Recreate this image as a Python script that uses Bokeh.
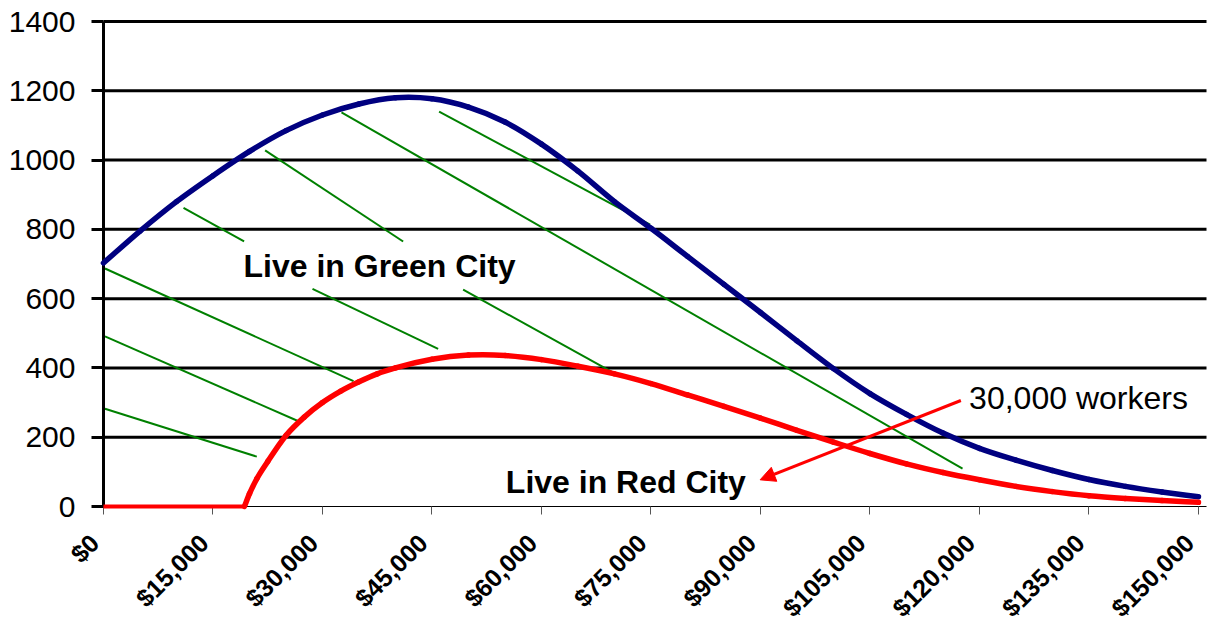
from math import pi

from bokeh.core.properties import value
from bokeh.embed import file_html
from bokeh.models import Arrow, FixedTicker, NormalHead, Range1d
from bokeh.plotting import figure
from bokeh.resources import INLINE

# Household income (USD) and number of workers living in each city
income_green = [0, 5000, 10000, 15000, 20000, 25000, 30000, 35000, 40000, 45000,
                50000, 55000, 60000, 65000, 70000, 75000, 80000, 85000, 90000, 95000,
                100000, 105000, 110000, 115000, 120000, 125000, 130000, 135000, 140000,
                145000, 150000]
green_city = [703, 795, 880, 955, 1025, 1085, 1130, 1162, 1180, 1177,
              1153, 1110, 1046, 968, 880, 803, 722, 641, 560, 478,
              398, 326, 266, 212, 168, 134, 104, 78, 58,
              42, 28]

income_red = [0, 5000, 10000, 15000, 19300, 20000, 21000, 22500, 25000, 27500,
              30000, 32500, 35000, 37500, 40000, 45000, 50000, 55000, 60000, 65000,
              70000, 75000, 80000, 85000, 90000, 95000, 100000, 105000, 110000,
              115000, 120000, 125000, 130000, 135000, 140000, 145000, 150000]
red_city = [0, 0, 0, 0, 0, 37, 80, 130, 205, 258,
            300, 333, 360, 383, 400, 425, 437, 436, 424, 405,
            383, 355, 322, 289, 255, 220, 186, 153, 123,
            98, 77, 58, 43, 31, 23, 17, 12]

# Diagonal hatching over the Green City region (income, workers)
hatch_x0 = [10960, 22140, 32600, 45975, 28630, 49265, 200, 200, 200]
hatch_y0 = [862, 1028, 1138, 1140, 628, 626, 687, 491, 282]
hatch_x1 = [19260, 41045, 117680, 74880, 45840, 69950, 34250, 26715, 21000]
hatch_y1 = [765, 765, 109, 814, 455, 385, 362, 246, 144]

x_ticks = [0, 15000, 30000, 45000, 60000, 75000, 90000, 105000, 120000, 135000, 150000]
x_tick_labels = ["$0", "$15,000", "$30,000", "$45,000", "$60,000", "$75,000",
                 "$90,000", "$105,000", "$120,000", "$135,000", "$150,000"]
y_ticks = [0, 200, 400, 600, 800, 1000, 1200, 1400]
y_tick_labels = ["0", "200", "400", "600", "800", "1000", "1200", "1400"]
grid_values = [200, 400, 600, 800, 1000, 1200, 1400]

green_label = ("Live in Green City", 19180, 695)
red_label = ("Live in Red City", 55115, 71)
count_label = ("30,000 workers", 118580, 314)
arrow_from = (117450, 306)
arrow_to = (89950, 77)

FONT = "Liberation Sans"

# page geometry in pixels: the data band 0..X_END x 0..Y_END sits inside a
# frame that fills the whole page, so the slanted labels are not clipped
W, H = 1211, 624
BAND_LEFT, BAND_RIGHT, BAND_TOP, BAND_BOTTOM = 103, 1206, 21, 506
X_END, Y_END = 151100, 1400
x_per_px = X_END / (BAND_RIGHT - BAND_LEFT)
y_per_px = Y_END / (BAND_BOTTOM - BAND_TOP)
x_range = Range1d(-BAND_LEFT * x_per_px, X_END + (W - BAND_RIGHT) * x_per_px)
y_range = Range1d(-(H - BAND_BOTTOM) * y_per_px, Y_END + BAND_TOP * y_per_px)


def smooth_pieces(xs, ys):
    """Cubic Bezier pieces through every point (Hermite, centred slopes)."""
    n = len(xs)
    h = [xs[i + 1] - xs[i] for i in range(n - 1)]
    d = [(ys[i + 1] - ys[i]) / h[i] for i in range(n - 1)]
    m = [d[0]]
    for i in range(1, n - 1):
        m.append((d[i - 1] * h[i] + d[i] * h[i - 1]) / (h[i - 1] + h[i]))
    m.append(d[-1])
    out = dict(x0=[], y0=[], x1=[], y1=[], cx0=[], cy0=[], cx1=[], cy1=[])
    for i in range(n - 1):
        t = h[i] / 3
        out["x0"].append(xs[i]); out["y0"].append(ys[i])
        out["x1"].append(xs[i + 1]); out["y1"].append(ys[i + 1])
        out["cx0"].append(xs[i] + t); out["cy0"].append(ys[i] + m[i] * t)
        out["cx1"].append(xs[i + 1] - t); out["cy1"].append(ys[i + 1] - m[i + 1] * t)
    return out


p = figure(width=W, height=H, output_backend="svg", toolbar_location=None,
           x_range=x_range, y_range=y_range,
           min_border=0, min_border_left=0, min_border_right=0,
           min_border_top=0, min_border_bottom=0)
p.outline_line_color = None
p.background_fill_color = "white"
p.border_fill_color = "white"
p.xgrid.visible = False
p.ygrid.visible = False

# horizontal rules across the data band
rules = p.segment(x0=[0] * len(grid_values), y0=grid_values,
                  x1=[X_END] * len(grid_values), y1=grid_values,
                  line_color="black", line_width=3)
rules.level = "underlay"

# y axis pinned at income 0
p.yaxis.fixed_location = 0
p.yaxis.bounds = (0, Y_END)
p.yaxis.ticker = FixedTicker(ticks=y_ticks)
p.yaxis.major_label_overrides = dict(zip(y_ticks, y_tick_labels))
p.yaxis.axis_line_color = "black"
p.yaxis.axis_line_width = 3
p.yaxis.major_tick_line_color = "black"
p.yaxis.major_tick_line_width = 3
p.yaxis.major_tick_out = 12
p.yaxis.major_tick_in = 0
p.yaxis.minor_tick_line_color = None
p.yaxis.major_label_text_font = FONT
p.yaxis.major_label_text_font_size = "30px"
p.yaxis.major_label_text_color = "black"
p.yaxis.major_label_standoff = 16

# x axis pinned at zero workers; its slanted labels are drawn as text below
p.xaxis.fixed_location = 0
p.xaxis.bounds = (0, X_END)
p.xaxis.ticker = FixedTicker(ticks=x_ticks)
p.xaxis.major_label_overrides = {t: "" for t in x_ticks}
p.xaxis.axis_line_color = "black"
p.xaxis.axis_line_width = 1
p.xaxis.major_tick_line_color = "#555555"
p.xaxis.major_tick_line_width = 1
p.xaxis.major_tick_out = 8
p.xaxis.major_tick_in = 0
p.xaxis.minor_tick_line_color = None

p.text(x=x_ticks, y=[0] * len(x_ticks), text=x_tick_labels, angle=pi / 4,
       text_align="right", text_baseline="middle", x_offset=-9, y_offset=32,
       text_font=value(FONT), text_font_size="25px", text_font_style="bold",
       text_color="black")

# hatching
p.segment(x0=hatch_x0, y0=hatch_y0, x1=hatch_x1, y1=hatch_y1,
          line_color="#008000", line_width=2)

# the two distributions, drawn as smooth curves through the points
blue = p.bezier(line_color="#000080", line_width=5.5, line_cap="round",
                **smooth_pieces(income_green, green_city))
blue.level = "overlay"

rise_start = max(i for i, v in enumerate(red_city) if v == 0)
red_flat = p.line(income_red[:rise_start + 1], red_city[:rise_start + 1],
                  line_color="#ff0000", line_width=4, line_cap="butt")
red_flat.level = "overlay"
red = p.bezier(line_color="#ff0000", line_width=5.5, line_cap="round",
               **smooth_pieces(income_red[rise_start:], red_city[rise_start:]))
red.level = "overlay"

# labels
for lab, style in ((green_label, "bold"), (red_label, "bold"), (count_label, "normal")):
    p.text(x=[lab[1]], y=[lab[2]], text=[lab[0]],
           text_font=value(FONT), text_font_size="32px", text_font_style=style,
           text_color="black", text_align="left", text_baseline="alphabetic")

p.add_layout(Arrow(end=NormalHead(size=15, fill_color="#ff0000", line_color="#ff0000",
                                  line_width=1),
                   x_start=arrow_from[0], y_start=arrow_from[1],
                   x_end=arrow_to[0], y_end=arrow_to[1],
                   line_color="#ff0000", line_width=3, level="overlay"))

open("out.html", "w").write(file_html(p, INLINE))
